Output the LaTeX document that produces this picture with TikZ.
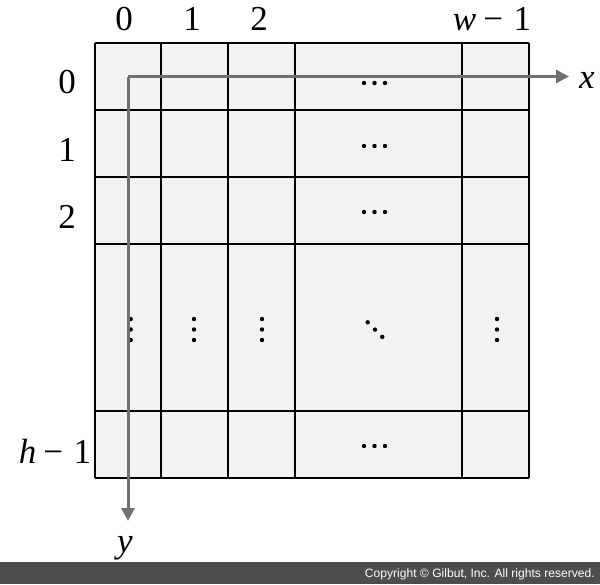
\documentclass[tikz,border=0pt]{standalone}
\usepackage{fontspec}
\setmainfont{Liberation Serif}
\newfontfamily\barfont{Liberation Sans}
\usetikzlibrary{arrows.meta}
\definecolor{cellfill}{HTML}{F2F2F2}
\definecolor{axisgray}{HTML}{707070}
\definecolor{bargray}{HTML}{4D4D4D}
\tikzset{
  gridline/.style={line width=2pt, draw=black},
  axisline/.style={line width=3pt, draw=axisgray, -{Triangle[length=13pt,width=13pt]}},
  lbl/.style={font=\fontsize{35}{35}\selectfont, anchor=base, inner sep=0pt},
  dotmark/.style={circle, fill=black, inner sep=0pt, minimum size=4.4pt},
  bartext/.style={font=\barfont\fontsize{12.1}{12}\selectfont, text=white, anchor=base east, inner sep=0pt}
}
\newcommand{\mminus}{\hspace{0.2em}−\hspace{0.3em}}
\begin{document}
\begin{tikzpicture}[x=1pt,y=-1pt]
\useasboundingbox (0,0) rectangle (600,584);
% cells
\fill[cellfill] (95,43) rectangle (529,478);
\foreach \xx in {95,161,228,295,462,529} \draw[gridline] (\xx,43) -- (\xx,478);
\foreach \yy in {43,110,177,244,411,478} \draw[gridline] (95,\yy) -- (529,\yy);
% horizontal ellipses
\foreach \yy [count=\i] in {83,146,212,446} {
  \node[dotmark] (hd\i a) at (364,\yy) {};
  \node[dotmark] (hd\i b) at (374.5,\yy) {};
  \node[dotmark] (hd\i c) at (385,\yy) {};
}
% vertical ellipses
\foreach \xx [count=\i] in {130.7,194,262,497} {
  \node[dotmark] (vd\i a) at (\xx,319) {};
  \node[dotmark] (vd\i b) at (\xx,329.5) {};
  \node[dotmark] (vd\i c) at (\xx,340) {};
}
% diagonal
\node[dotmark] (dd1) at (367.7,322.3) {};
\node[dotmark] (dd2) at (375,329.6) {};
\node[dotmark] (dd3) at (382.3,336.9) {};
% axes
\coordinate (origin) at (128,76.5);
\coordinate (xend) at (569,76.5);
\coordinate (yend) at (128,521);
\draw[axisline] (origin) -- (xend);
\draw[axisline] (origin) -- (yend);
\node[lbl] (xl) at (587,88) {\textit{x}};
\node[lbl] (yl) at (125,552) {\textit{y}};
% top labels
\node[lbl] (c0) at (124,30) {0};
\node[lbl] (c1) at (192,30) {1};
\node[lbl] (c2) at (259,30) {2};
\node[lbl] (cw) at (492,30) {\textit{w}\mminus 1};
% left labels
\node[lbl] (r0) at (67,93) {0};
\node[lbl] (r1) at (67,161) {1};
\node[lbl] (r2) at (67,228) {2};
\node[lbl] (rh) at (55,463) {\textit{h}\mminus 1};
% bottom bar
\fill[bargray] (0,562) rectangle (600,584);
\node[bartext] (copy) at (595,577.5) {Copyright © Gilbut, Inc. All rights reserved.};
\end{tikzpicture}
\end{document}
